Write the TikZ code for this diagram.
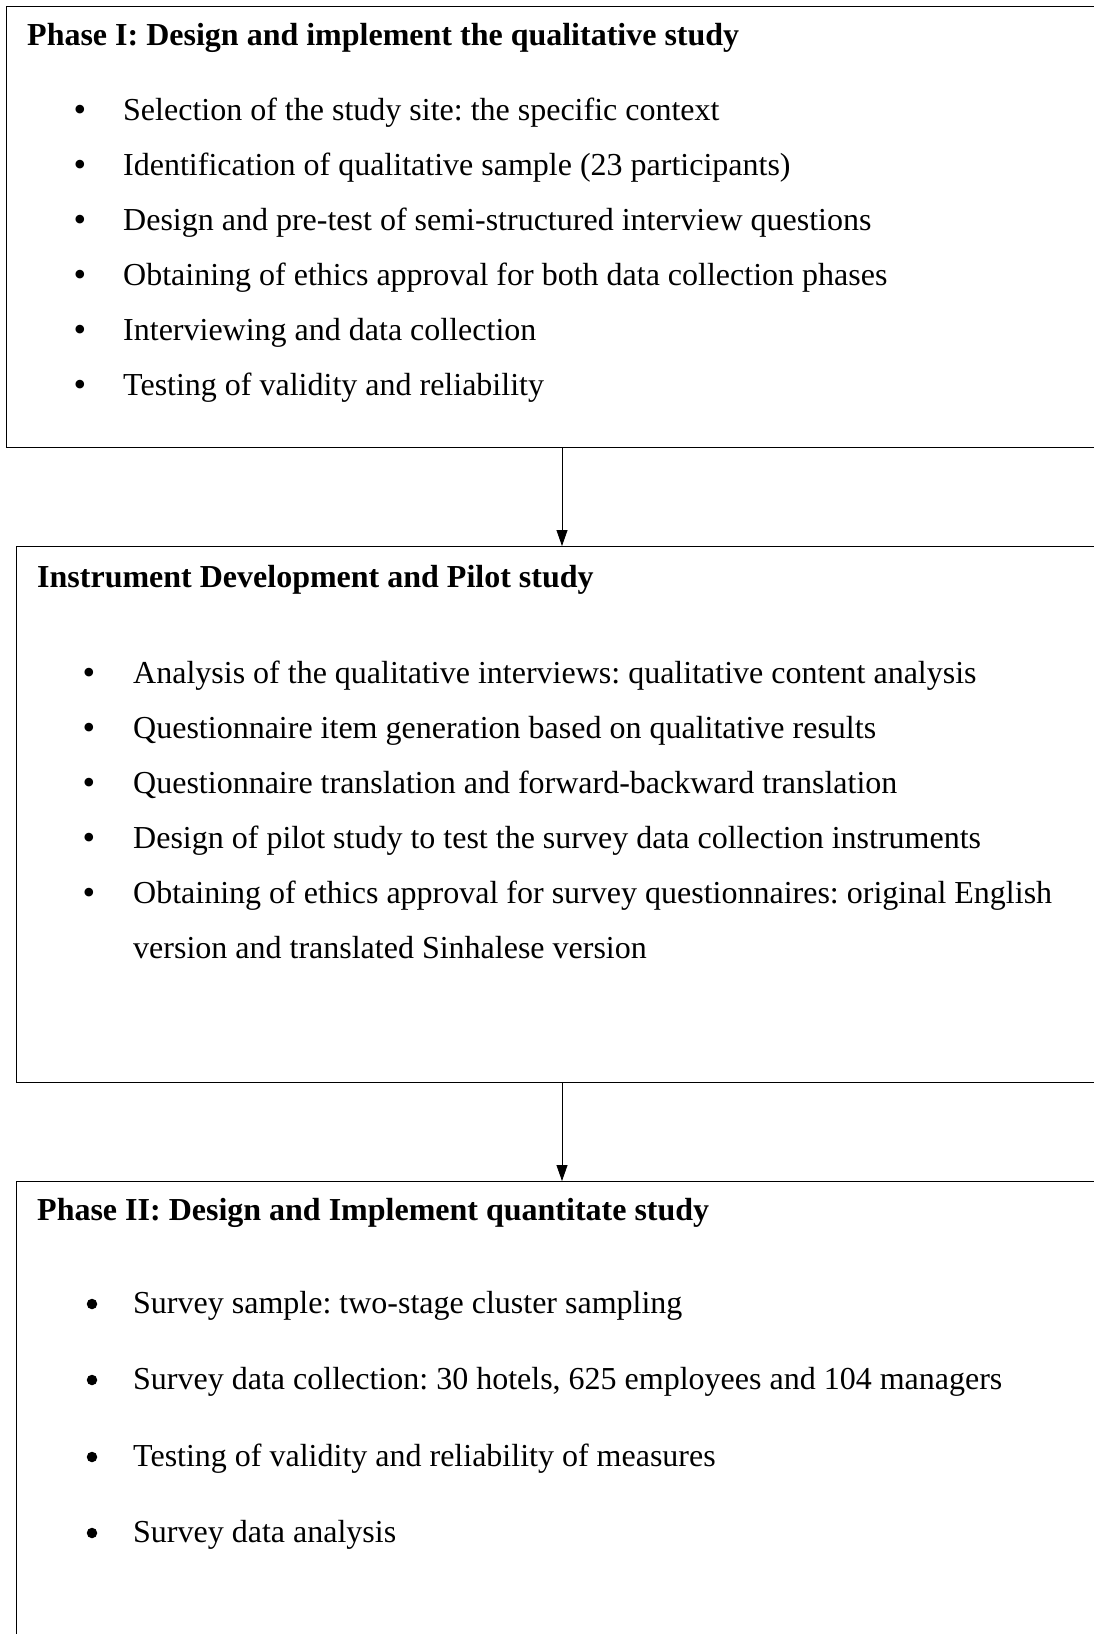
\documentclass[tikz,border=0pt]{standalone}
\usepackage{fontspec}
\setmainfont{Liberation Serif}
\usetikzlibrary{arrows.meta}
\frenchspacing

\tikzset{
  panel/.style={draw=black, line width=1.2pt, rectangle, inner sep=0pt, anchor=north west},
  txt/.style={inner sep=0pt, anchor=base west, font=\fontsize{32}{38}\selectfont},
  head/.style={txt, font=\fontsize{32}{38}\selectfont\bfseries},
  dot/.style={inner sep=0pt, anchor=base, font=\fontsize{36}{40}\selectfont},
  rounddot/.style={circle, fill=black, inner sep=0pt, minimum size=10.5pt},
  flow/.style={draw=black, line width=0.8pt, -{Triangle[length=16pt,width=11pt]}}
}

\begin{document}
\begin{tikzpicture}[x=1pt, y=-1pt]
  \useasboundingbox (0,0) rectangle (1094,1634);
  \clip (0,0) rectangle (1094,1634);

  % the three stage boxes (they run past the right and bottom edges)
  \node[panel, minimum width=1100pt, minimum height=441pt] (box1) at (6,6) {};
  \node[panel, minimum width=1100pt, minimum height=536pt] (box2) at (16,546) {};
  \node[panel, minimum width=1100pt, minimum height=480pt] (box3) at (16,1181) {};

  % arrows between the stages
  \coordinate (ax) at (562,0);
  \draw[flow] (box1.south -| ax) -- (box2.north -| ax);
  \draw[flow] (box2.south -| ax) -- (box3.north -| ax);

  % Phase I
  \node[head] (t1) at (27,45) {Phase I: Design and implement the qualitative study};
  \foreach \y/\s [count=\i] in {
      120/{Selection of the study site: the specific context},
      175/{Identification of qualitative sample (23 participants)},
      230/{Design and pre-test of semi-structured interview questions},
      285/{Obtaining of ethics approval for both data collection phases},
      340/{Interviewing and data collection},
      395/{Testing of validity and reliability}} {
    \node[dot] (b1-\i) at (80,\y+1) {•};
    \node[txt] (l1-\i) at (123,\y) {\s};
  }

  % Instrument development and pilot study
  \node[head] (t2) at (37,587) {Instrument Development and Pilot study};
  \foreach \y/\s [count=\i] in {
      683/{Analysis of the qualitative interviews: qualitative content analysis},
      738/{Questionnaire item generation based on qualitative results},
      793/{Questionnaire translation and forward-backward translation},
      848/{Design of pilot study to test the survey data collection instruments},
      903/{Obtaining of ethics approval for survey questionnaires: original English}} {
    \node[dot] (b2-\i) at (89,\y+1) {•};
    \node[txt] (l2-\i) at (133,\y) {\s};
  }
  \node[txt] (l2-6) at (133,958) {version and translated Sinhalese version};

  % Phase II
  \node[head] (t3) at (37,1220) {Phase II: Design and Implement quantitate study};
  \foreach \y/\s [count=\i] in {
      1313/{Survey sample: two-stage cluster sampling},
      1389/{Survey data collection: 30 hotels, 625 employees and 104 managers},
      1466/{Testing of validity and reliability of measures},
      1542/{Survey data analysis}} {
    \node[rounddot] (b3-\i) at (92,\y-9) {};
    \node[txt] (l3-\i) at (133,\y) {\s};
  }
\end{tikzpicture}
\end{document}
